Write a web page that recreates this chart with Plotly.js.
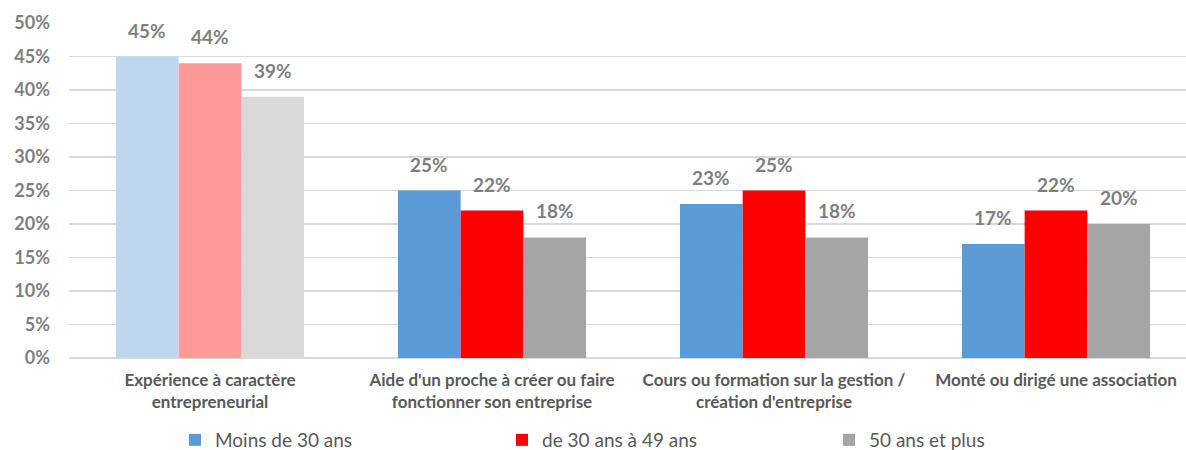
<!DOCTYPE html>
<html>
<head>
<meta charset="utf-8">
<script src="https://cdn.plot.ly/plotly-3.0.1.min.js"></script>
<style>html,body{margin:0;padding:0;background:#fff;}#chart{width:1186px;height:450px;}</style>
</head>
<body>
<div id="chart"></div>
<script>
const categories = [
  "Expérience à caractère<br>entrepreneurial",
  "Aide d'un proche à créer ou faire<br>fonctionner son entreprise",
  "Cours ou formation sur la gestion /<br>création d'entreprise",
  "Monté ou dirigé une association"
];
const seriesNames = ["Moins de 30 ans", "de 30 ans à 49 ans", "50 ans et plus"];
const moins30 = [0.45, 0.25, 0.23, 0.17];
const de30a49 = [0.44, 0.22, 0.25, 0.22];
const plus50 = [0.39, 0.18, 0.18, 0.20];
const mainColors = ["#5B9BD5", "#FF0000", "#A5A5A5"];
const lightColors = ["#BDD7EE", "#FF9999", "#D9D9D9"];

const FONT = "Lato, 'Open Sans', sans-serif";
const values = [moins30, de30a49, plus50];

const W = 1186, H = 450;
const margin = {l: 69, r: 0, t: 23, b: 92};
const xRange = [-0.5, 3.461];
const bargap = 0.333;
const pxPerCat = (W - margin.l - margin.r) / (xRange[1] - xRange[0]);
const barPx = pxPerCat * (1 - bargap) / values.length;

const traces = [];
const annotations = [];
values.forEach((vals, i) => {
  traces.push({
    type: "bar",
    name: seriesNames[i],
    x: categories,
    y: vals,
    showlegend: false,
    marker: {color: vals.map((v, j) => j === 0 ? lightColors[i] : mainColors[i])},
    hoverinfo: "skip"
  });
  vals.forEach((v, j) => {
    annotations.push({
      xref: "x", yref: "y",
      x: categories[j], y: v,
      xshift: (i - (values.length - 1) / 2) * barPx,
      yshift: 13,
      yanchor: "bottom",
      xanchor: "center",
      showarrow: false,
      text: Math.round(v * 100) + "%",
      font: {family: FONT, size: 19, color: "#7F7F7F", weight: "bold"}
    });
  });
});
seriesNames.forEach((n, i) => {
  traces.push({
    type: "scatter",
    mode: "markers",
    name: n,
    x: [null],
    y: [null],
    marker: {symbol: "square", size: 12, color: mainColors[i]},
    showlegend: true,
    hoverinfo: "skip"
  });
});

const layout = {
  width: W,
  height: H,
  margin: margin,
  paper_bgcolor: "#fff",
  plot_bgcolor: "#fff",
  barmode: "group",
  bargap: bargap,
  bargroupgap: 0,
  font: {family: FONT, color: "#595959"},
  annotations: annotations,
  xaxis: {
    type: "category",
    range: xRange,
    showgrid: false,
    showline: false,
    ticks: "",
    tickfont: {family: FONT, size: 17, color: "#595959", weight: "bold"},
    ticklabelstandoff: 10
  },
  yaxis: {
    range: [0, 0.5],
    dtick: 0.05,
    tickformat: ".0%",
    showgrid: true,
    gridcolor: "#D9D9D9",
    gridwidth: 1.5,
    zeroline: true,
    zerolinecolor: "#D9D9D9",
    zerolinewidth: 1.5,
    showline: false,
    ticks: "",
    tickfont: {family: FONT, size: 18, color: "#7F7F7F", weight: "bold"},
    ticklabelstandoff: 18
  },
  legend: {
    orientation: "h",
    xref: "container",
    yref: "container",
    x: 175 / W,
    xanchor: "left",
    y: 10 / H,
    yanchor: "middle",
    entrywidth: 282,
    entrywidthmode: "pixels",
    font: {family: FONT, size: 19, color: "#595959"},
    itemwidth: 30
  },
  showlegend: true
};

Plotly.newPlot("chart", traces, layout, {displayModeBar: false, staticPlot: true});
</script>
</body>
</html>
